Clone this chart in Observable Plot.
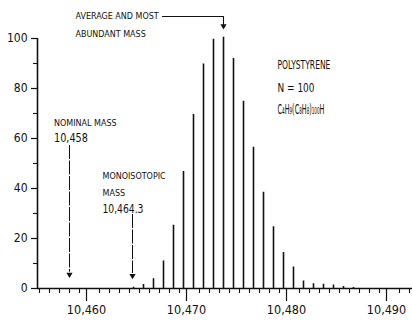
<!DOCTYPE html>
<html><head><meta charset="utf-8">
<script src="https://cdn.jsdelivr.net/npm/d3@7"></script>
<script src="https://cdn.jsdelivr.net/npm/@observablehq/plot@0.6"></script>
<style>body{margin:0;background:#fff}</style>
</head><body><div id="chart"></div>
<script>
// Isotope peak masses (Da) and relative intensities (%)
const peakMass = [10464.4, 10465.4, 10466.4, 10467.4, 10468.4, 10469.4, 10470.4, 10471.4,
  10472.4, 10473.4, 10474.4, 10475.4, 10476.4, 10477.4, 10478.4, 10479.4, 10480.4, 10481.4,
  10482.4, 10483.4, 10484.4, 10485.4, 10486.4];
const peakIntensity = [0.5, 1.6, 3.9, 11.0, 25.3, 46.8, 69.6, 89.8,
  99.7, 100.5, 92.0, 74.9, 56.5, 38.5, 24.7, 14.4, 8.6, 3.0,
  1.9, 1.7, 1.4, 0.8, 0.4];

const xMajorTicks = [10460, 10470, 10480, 10490];
const xMinorTicks = d3.range(10455, 10493).filter(v => v % 10 !== 0);
const yMajorTicks = [0, 20, 40, 60, 80, 100];
const yMinorTicks = [10, 30, 50, 70, 90];

// annotations
const nominalMass = 10458;
const monoMass = 10464.3;
const averageMass = peakMass[9];
const formula = "C₄H₉(C₈H₈)₁₀₀H";

const peaks = peakMass.map((m, i) => ({mass: m, intensity: peakIntensity[i]}));

const smallLabels = [
  {x: 10458.6, y: 108.9, text: "AVERAGE AND MOST"},
  {x: 10458.6, y: 101.6, text: "ABUNDANT MASS"},
  {x: 10456.45, y: 66.0, text: "NOMINAL MASS"},
  {x: 10461.3, y: 44.8, text: "MONOISOTOPIC"},
  {x: 10461.3, y: 38.2, text: "MASS"}
];
const bigLabels = [
  {x: 10456.45, y: 60.2, text: "10,458"},
  {x: 10461.3, y: 31.8, text: "10,464.3"}
];
const compoundLabels = [
  {x: 10478.8, y: 89.2, text: "POLYSTYRENE"},
  {x: 10478.8, y: 80.2, text: "N = 100"}
];
const formulaLabel = [{x: 10478.8, y: 71.6, text: formula}];
const arrows = [
  {x: nominalMass, y1: 57.2, y2: 6.5},
  {x: monoMass, y1: 29.6, y2: 6.0}
];
const avgPath = [
  {x: 10467.3, y: 108.8},
  {x: averageMass, y: 108.8},
  {x: averageMass, y: 105.6}
];
const heads = [
  {x: nominalMass, y: 5.6},
  {x: monoMass, y: 5.1},
  {x: averageMass, y: 105.0}
];

// rendered text widths (px) to mimic the narrow plotter lettering
const textWidths = {"10,458": 34, "10,464.3": 41, "POLYSTYRENE": 53, "N = 100": 37, [formula]: 47};

const narrow = "'Liberation Sans Narrow', 'DejaVu Sans Condensed', sans-serif";

const chart = Plot.plot({
  width: 412,
  height: 320,
  marginLeft: 37,
  marginRight: 0,
  marginTop: 38,
  marginBottom: 32,
  style: {fontFamily: narrow, fontSize: "12px", color: "#111", background: "#fff"},
  x: {domain: [10454.8, 10492.3], label: null},
  y: {domain: [0, 100], label: null},
  marks: [
    Plot.ruleX(peaks, {x: "mass", y1: 0, y2: "intensity", stroke: "#111", strokeWidth: 1.6}),
    Plot.axisX({ticks: xMinorTicks, tickSize: 5, tickFormat: () => "", strokeWidth: 1.1}),
    Plot.axisX({ticks: xMajorTicks, tickSize: 13, tickPadding: 4, dx: -3, tickFormat: d3.format(","), strokeWidth: 1.2, fontSize: 12.5}),
    Plot.axisY({ticks: yMinorTicks, tickSize: 4, tickFormat: () => "", strokeWidth: 1.1}),
    Plot.axisY({ticks: yMajorTicks, tickSize: 6, tickPadding: 4, strokeWidth: 1.2, fontSize: 12}),
    Plot.ruleY([0], {stroke: "#111", strokeWidth: 1.6}),
    Plot.ruleX([10454.8], {y1: 0, y2: 100, stroke: "#111", strokeWidth: 1.6}),
    Plot.ruleX(arrows, {x: "x", y1: "y1", y2: "y2", stroke: "#111", strokeWidth: 1, strokeDasharray: "14,1.5"}),
    Plot.line(avgPath, {x: "x", y: "y", stroke: "#111", strokeWidth: 1.1}),
    Plot.dot(heads, {x: "x", y: "y", symbol: "triangle", rotate: 180, r: 2.3, fill: "#111", stroke: "none"}),
    Plot.text(smallLabels, {x: "x", y: "y", text: "text", textAnchor: "start", fontFamily: "'DejaVu Sans', sans-serif", fontSize: 8, fill: "#111"}),
    Plot.text(bigLabels, {x: "x", y: "y", text: "text", textAnchor: "start", fontFamily: narrow, fontSize: 13, fill: "#111"}),
    Plot.text(compoundLabels, {x: "x", y: "y", text: "text", textAnchor: "start", fontFamily: narrow, fontSize: 12, fill: "#111"}),
    Plot.text(formulaLabel, {x: "x", y: "y", text: "text", textAnchor: "start", fontFamily: narrow, fontSize: 14, fill: "#111"})
  ]
});
document.getElementById("chart").appendChild(chart);

// squeeze selected labels horizontally (keeps glyph height, like the plotter lettering)
d3.select(chart).selectAll("text").each(function() {
  const w = textWidths[this.textContent];
  if (!w) return;
  const natural = this.getComputedTextLength();
  if (!(natural > 0)) return;
  const el = d3.select(this);
  const tr = el.attr("transform") || "";
  el.attr("transform", tr + ` scale(${w / natural},1)`);
});
</script>
</body></html>
